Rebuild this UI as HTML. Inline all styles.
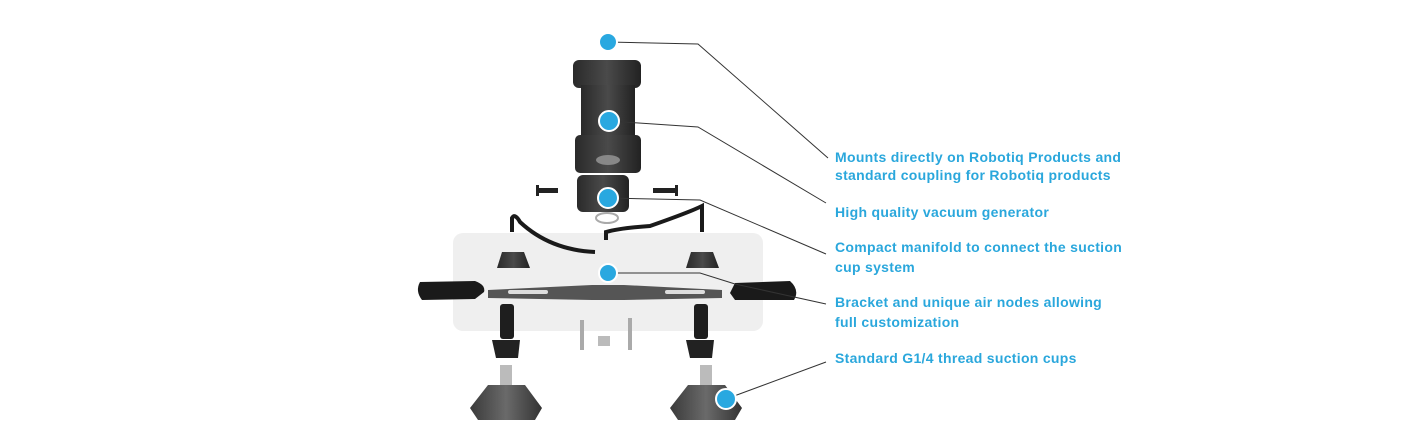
<!DOCTYPE html>
<html><head><meta charset="utf-8"><style>
html,body{margin:0;padding:0;background:#fff;width:1420px;height:447px;overflow:hidden}
svg{display:block}
text{font-family:"Liberation Sans",sans-serif;font-weight:bold;font-size:14px;fill:#2aa7dc;letter-spacing:0.3px}
</style></head><body>
<svg width="1420" height="447" viewBox="0 0 1420 447">
<defs>
<linearGradient id="g" x1="0" x2="1"><stop offset="0" stop-color="#2a2a2a"/><stop offset=".5" stop-color="#4a4a4a"/><stop offset="1" stop-color="#222"/></linearGradient>
<linearGradient id="c" x1="0" x2="1"><stop offset="0" stop-color="#3a3a3a"/><stop offset=".5" stop-color="#6a6a6a"/><stop offset="1" stop-color="#333"/></linearGradient>
</defs>
<rect x="453" y="233" width="310" height="98" rx="10" fill="#efefef"/>
<rect x="573" y="60" width="68" height="28" rx="6" fill="url(#g)"/>
<rect x="581" y="85" width="54" height="55" fill="url(#g)"/>
<rect x="575" y="135" width="66" height="38" rx="5" fill="url(#g)"/>
<ellipse cx="608" cy="160" rx="12" ry="5" fill="#888"/>
<rect x="577" y="175" width="52" height="37" rx="6" fill="url(#g)"/>
<rect x="536" y="188" width="22" height="5" fill="#222"/><rect x="536" y="185" width="3" height="11" fill="#222"/>
<rect x="653" y="188" width="22" height="5" fill="#222"/><rect x="675" y="185" width="3" height="11" fill="#222"/>
<ellipse cx="607" cy="218" rx="11" ry="5" fill="none" stroke="#aaa" stroke-width="2"/>
<path d="M512 232 L512 218 Q515 213 520 222 Q550 250 595 252" fill="none" stroke="#1a1a1a" stroke-width="4"/>
<path d="M606 240 L606 232 Q620 228 650 226 Q690 212 702 206 L702 232" fill="none" stroke="#1a1a1a" stroke-width="4"/>
<path d="M497 268 L502 252 L524 252 L530 268 Z" fill="url(#g)"/>
<path d="M686 268 L691 252 L713 252 L719 268 Z" fill="url(#g)"/>
<path d="M488 290 L592 285 L624 285 L722 290 L722 298 L624 300 L592 300 L488 298 Z" fill="#555"/>
<rect x="508" y="290" width="40" height="4" rx="2" fill="#ddd"/><rect x="665" y="290" width="40" height="4" rx="2" fill="#ddd"/>
<path d="M420 282 L475 281 Q486 285 484 292 L475 299 L422 300 Q415 291 420 282Z" fill="#1a1a1a"/>
<path d="M735 283 L790 281 Q800 290 794 300 L735 300 L730 293Z" fill="#1a1a1a"/>
<rect x="500" y="304" width="14" height="35" rx="3" fill="#1e1e1e"/>
<path d="M492 340 L520 340 L518 358 L496 358Z" fill="#222"/>
<rect x="694" y="304" width="14" height="35" rx="3" fill="#1e1e1e"/>
<path d="M686 340 L714 340 L712 358 L690 358Z" fill="#222"/>
<rect x="580" y="320" width="4" height="30" fill="#aaa"/><rect x="628" y="318" width="4" height="32" fill="#aaa"/>
<rect x="598" y="336" width="12" height="10" fill="#bbb"/>
<rect x="500" y="365" width="12" height="20" fill="#bbb"/>
<path d="M488 385 L525 385 L542 408 L535 420 L478 420 L470 408Z" fill="url(#c)"/>
<rect x="700" y="365" width="12" height="20" fill="#bbb"/>
<path d="M688 385 L725 385 L742 408 L735 420 L678 420 L670 408Z" fill="url(#c)"/>
<g fill="none" stroke="#333" stroke-width="1">
<polyline points="608,42 698,44 828,158"/>
<polyline points="609,121 698,127 826,203"/>
<polyline points="608,198 700,200 826,254"/>
<polyline points="608,273 700,273 735,284 826,304"/>
<polyline points="726,399 826,362"/>
</g>
<g fill="#29a8e0" stroke="#fff" stroke-width="2">
<circle cx="608" cy="42" r="9"/><circle cx="609" cy="121" r="10"/><circle cx="608" cy="198" r="10"/>
<circle cx="608" cy="273" r="9"/><circle cx="726" cy="399" r="10"/>
</g>
<text x="835" y="162">Mounts directly on Robotiq Products and</text>
<text x="835" y="180">standard coupling for Robotiq products</text>
<text x="835" y="217">High quality vacuum generator</text>
<text x="835" y="252">Compact manifold to connect the suction</text>
<text x="835" y="272">cup system</text>
<text x="835" y="307">Bracket and unique air nodes allowing</text>
<text x="835" y="327">full customization</text>
<text x="835" y="363">Standard G1/4 thread suction cups</text>
</svg>
</body></html>
